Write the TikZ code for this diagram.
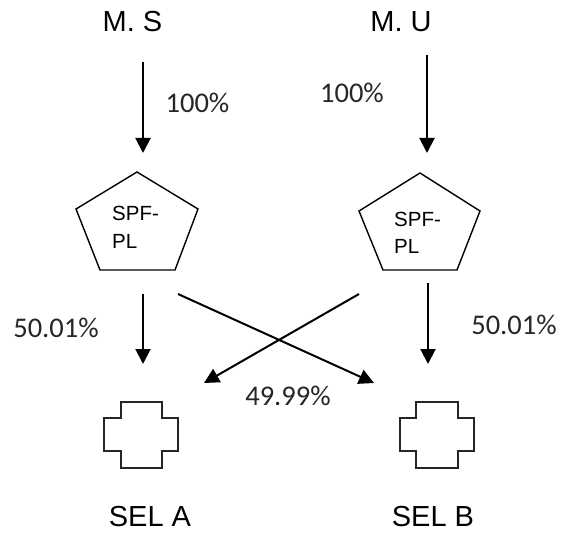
\documentclass[tikz,border=0pt]{standalone}
\usepackage{fontspec}
\setmainfont{Liberation Sans}
\newfontfamily\pctfont{Carlito}
\usetikzlibrary{arrows.meta}
\tikzset{
  big/.style={font=\fontsize{29}{32}\selectfont, inner sep=0pt},
  pct/.style={font=\pctfont\fontsize{28.5}{31}\selectfont, inner sep=0pt, text=black!85},
  small/.style={font=\fontsize{20.5}{23}\selectfont, inner sep=0pt, anchor=west},
  arr/.style={line width=2pt, -{Triangle[length=15pt,width=15pt]}},
  pentline/.style={line width=1.4pt, line join=miter},
  crossshape/.style={line width=2pt, draw=black!85, line join=miter}
}
\begin{document}
\begin{tikzpicture}[x=1pt,y=-1pt]
\useasboundingbox (0,0) rectangle (563,535);
% top labels
\node[big] (ms) at (132.5,21.5) {M. S};
\node[big] (mu) at (401,21.5) {M. U};
% coordinates
\coordinate (a1s) at (143,62);
\coordinate (a1e) at (143,153);
\coordinate (a2s) at (427,55);
\coordinate (a2e) at (427,153);
\coordinate (b1s) at (143,294);
\coordinate (b1e) at (143,364);
\coordinate (b2s) at (428,283);
\coordinate (b2e) at (428,364);
\coordinate (c1s) at (178,294);
\coordinate (c1e) at (374,383);
\coordinate (c2s) at (359,294);
\coordinate (c2e) at (204,383);
\draw[arr] (a1s) -- (a1e);
\draw[arr] (a2s) -- (a2e);
\draw[arr] (b1s) -- (b1e);
\draw[arr] (b2s) -- (b2e);
\draw[arr] (c1s) -- (c1e);
\draw[arr] (c2s) -- (c2e);
% percentages
\node[pct] (p1) at (197.5,103) {100\%};
\node[pct] (p2) at (352,93) {100\%};
\node[pct] (p3) at (56,328) {50.01\%};
\node[pct] (p4) at (514,325) {50.01\%};
\node[pct] (p5) at (288,396) {49.99\%};
% pentagons
\draw[pentline] (137,172) -- (198,209) -- (175,270) -- (100,270) -- (76,209) -- cycle;
\draw[pentline] (420,173) -- (480,211) -- (457,270) -- (383,270) -- (359,211) -- cycle;
\node[small] (s1a) at (112,213.5) {SPF-};
\node[small] (s1b) at (112,241.5) {PL};
\node[small] (s2a) at (394,219) {SPF-};
\node[small] (s2b) at (394,246) {PL};
% crosses
\draw[crossshape] (121,402) -- (162,402) -- (162,418) -- (178,418) -- (178,451) -- (162,451) -- (162,468) -- (121,468) -- (121,451) -- (104,451) -- (104,418) -- (121,418) -- cycle;
\draw[crossshape] (416,402) -- (458,402) -- (458,418) -- (474,418) -- (474,451) -- (458,451) -- (458,468) -- (416,468) -- (416,451) -- (400,451) -- (400,418) -- (416,418) -- cycle;
% bottom labels
\node[big] (sa) at (150,517) {SEL A};
\node[big] (sb) at (433,517) {SEL B};
\end{tikzpicture}
\end{document}
